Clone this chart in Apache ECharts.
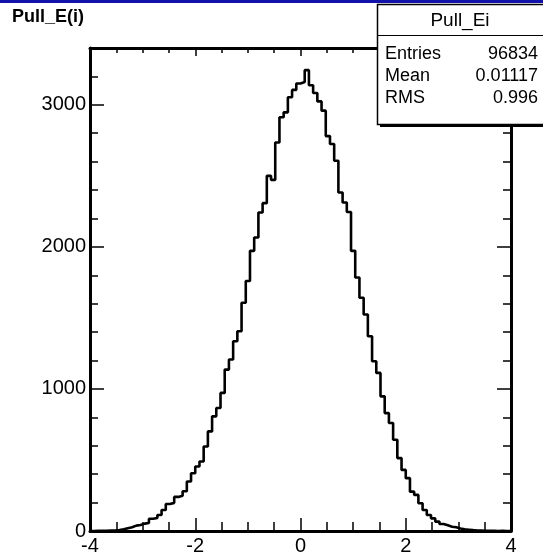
<!DOCTYPE html>
<html>
<head>
<meta charset="utf-8">
<script src="https://cdn.jsdelivr.net/npm/echarts@6/dist/echarts.min.js"></script>
<style>
html,body{margin:0;padding:0;background:#fff;}
#chart{width:543px;height:556px;}
</style>
</head>
<body>
<div id="chart"></div>
<script>
// ---- data ----
const histTitle = "Pull_E(i)";
const statsTitle = "Pull_Ei";
const statsLabels = ["Entries", "Mean", "RMS"];
const statsValues = ["96834", "0.01117", "0.996"];
const xMin = -4, xMax = 4, binWidth = 0.08;
const yMax = 3400;
const xTickLabels = ["-4", "-2", "0", "2", "4"];
const yTickLabels = ["0", "1000", "2000", "3000"];
const counts = [
  0, 1, 1, 2, 3, 4, 7, 12, 20, 26,
  38, 42, 52, 56, 86, 92, 113, 148, 190, 198,
  240, 248, 280, 348, 407, 454, 489, 595, 701, 807,
  866, 972, 1136, 1207, 1336, 1406, 1607, 1760, 1972, 2066,
  2242, 2308, 2500, 2472, 2735, 2912, 2947, 3053, 3105, 3150,
  3160, 3244, 3138, 3083, 3024, 2959, 2780, 2724, 2606, 2383,
  2312, 2246, 1972, 1784, 1642, 1524, 1371, 1195, 1113, 948,
  830, 760, 642, 513, 430, 372, 277, 254, 195, 148,
  113, 89, 66, 49, 40, 30, 26, 18, 12, 9,
  6, 4, 3, 2, 1, 1, 0, 1, 0, 0
];

// ---- build ----
const lineData = counts.map((c, i) => [xMin + i * binWidth, c]);
lineData.push([xMax, counts[counts.length - 1]]);

const FONT = "'Liberation Sans', Arial, Helvetica, sans-serif";
const LABEL_SIZE = 20;
const STAT_SIZE = 18;
const chart = echarts.init(document.getElementById('chart'), null, {renderer: 'canvas'});

function xAxisCfg(pos, showLabel, majLen, minLen) {
  return {
    type: 'value', position: pos, min: xMin, max: xMax, interval: 2,
    axisLine: {show: true, onZero: false, lineStyle: {color: '#000', width: 3}},
    axisTick: {show: true, inside: true, length: majLen, lineStyle: {color: '#000', width: 1.5}},
    minorTick: {show: true, splitNumber: 4, length: minLen, lineStyle: {color: '#000', width: 1.5}},
    splitLine: {show: false},
    axisLabel: {show: showLabel, fontFamily: FONT, fontSize: LABEL_SIZE, color: '#000', margin: 5,
      formatter: v => { const idx = Math.round((v - xMin) / 2); return xTickLabels[idx] !== undefined ? xTickLabels[idx] : ''; }}
  };
}
function yAxisCfg(pos, interval, tickLen, showLabel, showLine) {
  return {
    type: 'value', position: pos, min: 0, max: yMax, interval: interval,
    axisLine: {show: showLine, onZero: false, lineStyle: {color: '#000', width: 3}},
    axisTick: {show: true, inside: true, length: tickLen, lineStyle: {color: '#000', width: 1.5}},
    splitLine: {show: false},
    axisLabel: {show: showLabel, showMaxLabel: false, fontFamily: FONT, fontSize: LABEL_SIZE, color: '#000', margin: 4,
      formatter: v => { const idx = Math.round(v / 1000); return (v % 1000 === 0 && yTickLabels[idx] !== undefined) ? yTickLabels[idx] : ''; }}
  };
}

const option = {
  animation: false,
  backgroundColor: '#fff',
  grid: {left: 90, right: 32, top: 48, bottom: 25, containLabel: false},
  xAxis: [
    xAxisCfg('bottom', true, 13, 9),
    xAxisCfg('top', false, 8, 5)
  ],
  yAxis: [
    yAxisCfg('left', 1000, 14, true, true),
    yAxisCfg('left', 200, 8, false, false),
    yAxisCfg('right', 1000, 14, false, true),
    yAxisCfg('right', 200, 8, false, false)
  ],
  series: [{
    type: 'line', xAxisIndex: 0, yAxisIndex: 0,
    step: 'end', data: lineData, showSymbol: false, symbol: 'none',
    lineStyle: {color: '#000', width: 2.6}, z: 5
  }],
  graphic: [
    {type: 'rect', z: 100, shape: {x: 0, y: 0, width: 543, height: 3}, style: {fill: '#1212aa'}},
    {type: 'text', z: 100, left: 12, top: 8, style: {text: histTitle, font: 'bold 18px ' + FONT, fill: '#000'}},
    {type: 'rect', z: 100, shape: {x: 380, y: 124, width: 180, height: 3}, style: {fill: '#000'}},
    {type: 'rect', z: 101, shape: {x: 377.5, y: 4.5, width: 180, height: 120}, style: {fill: '#fff', stroke: '#000', lineWidth: 1.5}},
    {type: 'line', z: 102, shape: {x1: 377.5, y1: 35.5, x2: 543, y2: 35.5}, style: {stroke: '#000', lineWidth: 1.2}},
    {type: 'text', z: 103, x: 460, y: 21, style: {text: statsTitle, font: '19px ' + FONT, fill: '#000', textAlign: 'center', textVerticalAlign: 'middle'}},
    {type: 'text', z: 103, x: 385, y: 54, style: {text: statsLabels[0], font: STAT_SIZE + 'px ' + FONT, fill: '#000', textAlign: 'left', textVerticalAlign: 'middle'}},
    {type: 'text', z: 103, x: 538, y: 54, style: {text: statsValues[0], font: STAT_SIZE + 'px ' + FONT, fill: '#000', textAlign: 'right', textVerticalAlign: 'middle'}},
    {type: 'text', z: 103, x: 385, y: 76, style: {text: statsLabels[1], font: STAT_SIZE + 'px ' + FONT, fill: '#000', textAlign: 'left', textVerticalAlign: 'middle'}},
    {type: 'text', z: 103, x: 538, y: 76, style: {text: statsValues[1], font: STAT_SIZE + 'px ' + FONT, fill: '#000', textAlign: 'right', textVerticalAlign: 'middle'}},
    {type: 'text', z: 103, x: 385, y: 98, style: {text: statsLabels[2], font: STAT_SIZE + 'px ' + FONT, fill: '#000', textAlign: 'left', textVerticalAlign: 'middle'}},
    {type: 'text', z: 103, x: 538, y: 98, style: {text: statsValues[2], font: STAT_SIZE + 'px ' + FONT, fill: '#000', textAlign: 'right', textVerticalAlign: 'middle'}}
  ]
};
chart.setOption(option);
</script>
</body>
</html>
